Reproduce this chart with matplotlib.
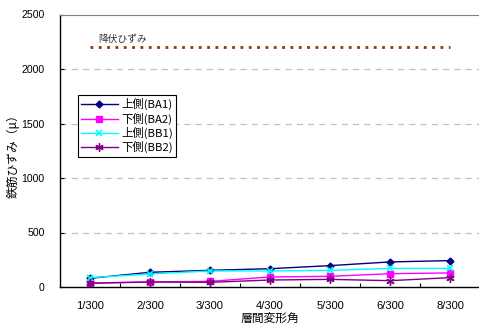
import numpy as np
import matplotlib
matplotlib.use('Agg')
import matplotlib.pyplot as plt

plt.rcParams['font.family'] = ['Liberation Sans', 'Noto Sans CJK JP', 'DejaVu Sans']

# Data
categories = ['1/300', '2/300', '3/300', '4/300', '5/300', '6/300', '8/300']
ba1 = [80, 135, 153, 168, 196, 230, 242]
ba2 = [37, 46, 52, 92, 98, 122, 129]
bb1 = [86, 119, 147, 147, 153, 171, 171]
bb2 = [34, 46, 43, 64, 70, 58, 86]
yield_strain = 2200
yticks = [0, 500, 1000, 1500, 2000, 2500]

fig = plt.figure(figsize=(4.79, 3.24), dpi=100)
ax = fig.add_axes([60 / 479, 1 - 287 / 324, 420 / 479, (287 - 14.5) / 324])

x = np.arange(len(categories))

# Grid
for yv in yticks[1:-1]:
    ax.axhline(yv, color='#c0c0c0', lw=0.9, ls=(0, (5, 4)), zorder=0)

# Yield line
ax.plot(x, [yield_strain] * len(x), color='#993300', lw=2, ls=(0, (1, 2)), zorder=2)
ax.text(0.13, yield_strain + 25, '降伏ひずみ', fontsize=7, color='#333333',
        family=['Noto Sans CJK JP'], va='bottom', ha='left')

ax.plot(x, ba1, color='#000080', marker='D', ms=3.5, lw=1, label='上側(BA1)')
ax.plot(x, ba2, color='#ff00ff', marker='s', ms=4, lw=1, label='下側(BA2)')
ax.plot(x, bb1, color='#00ffff', marker='x', ms=5, mew=1.2, lw=1, label='上側(BB1)')
ax.plot(x, bb2, color='#800080', marker=(6, 2, 0), ms=6, mew=1, lw=1, label='下側(BB2)')

ax.set_xlim(-0.5, len(categories) - 0.5)
ax.set_ylim(0, 2500)
ax.set_yticks(yticks)
ax.set_yticklabels([str(v) for v in yticks], fontsize=7.6)
ax.set_xticks(x)
ax.set_xticklabels(categories, fontsize=8)
ax.set_xticks(np.arange(len(categories) - 1) + 0.5, minor=True)
ax.tick_params(axis='x', which='major', length=0, pad=10)
ax.tick_params(axis='x', which='minor', direction='in', length=3, width=0.8)
ax.tick_params(axis='y', direction='in', length=3, width=0.8, pad=11)

ax.spines['right'].set_visible(False)
ax.spines['top'].set_color('#808080')
ax.spines['left'].set_linewidth(1)
ax.spines['bottom'].set_linewidth(1)

ax.set_xlabel('層間変形角', fontsize=8.5, family=['Noto Sans CJK JP'])
ax.xaxis.set_label_coords(0.5, -25 / 272.5)
ax.set_ylabel('鉄筋ひずみ（μ）', fontsize=8.5, family=['Noto Sans CJK JP'])
ax.yaxis.set_label_coords(-40 / 420, 0.49)

leg = ax.legend(loc='upper left', bbox_to_anchor=(12 / 420, (287 - 89) / 272.5),
                fontsize=8.2, frameon=True, fancybox=False, framealpha=1,
                edgecolor='black', handlelength=3.2, borderpad=0.3,
                labelspacing=0.2, handletextpad=0.3)
leg.get_frame().set_linewidth(0.8)
for t in leg.get_texts():
    t.set_family(['Noto Sans CJK JP'])

fig.savefig('out.png', dpi=100)
